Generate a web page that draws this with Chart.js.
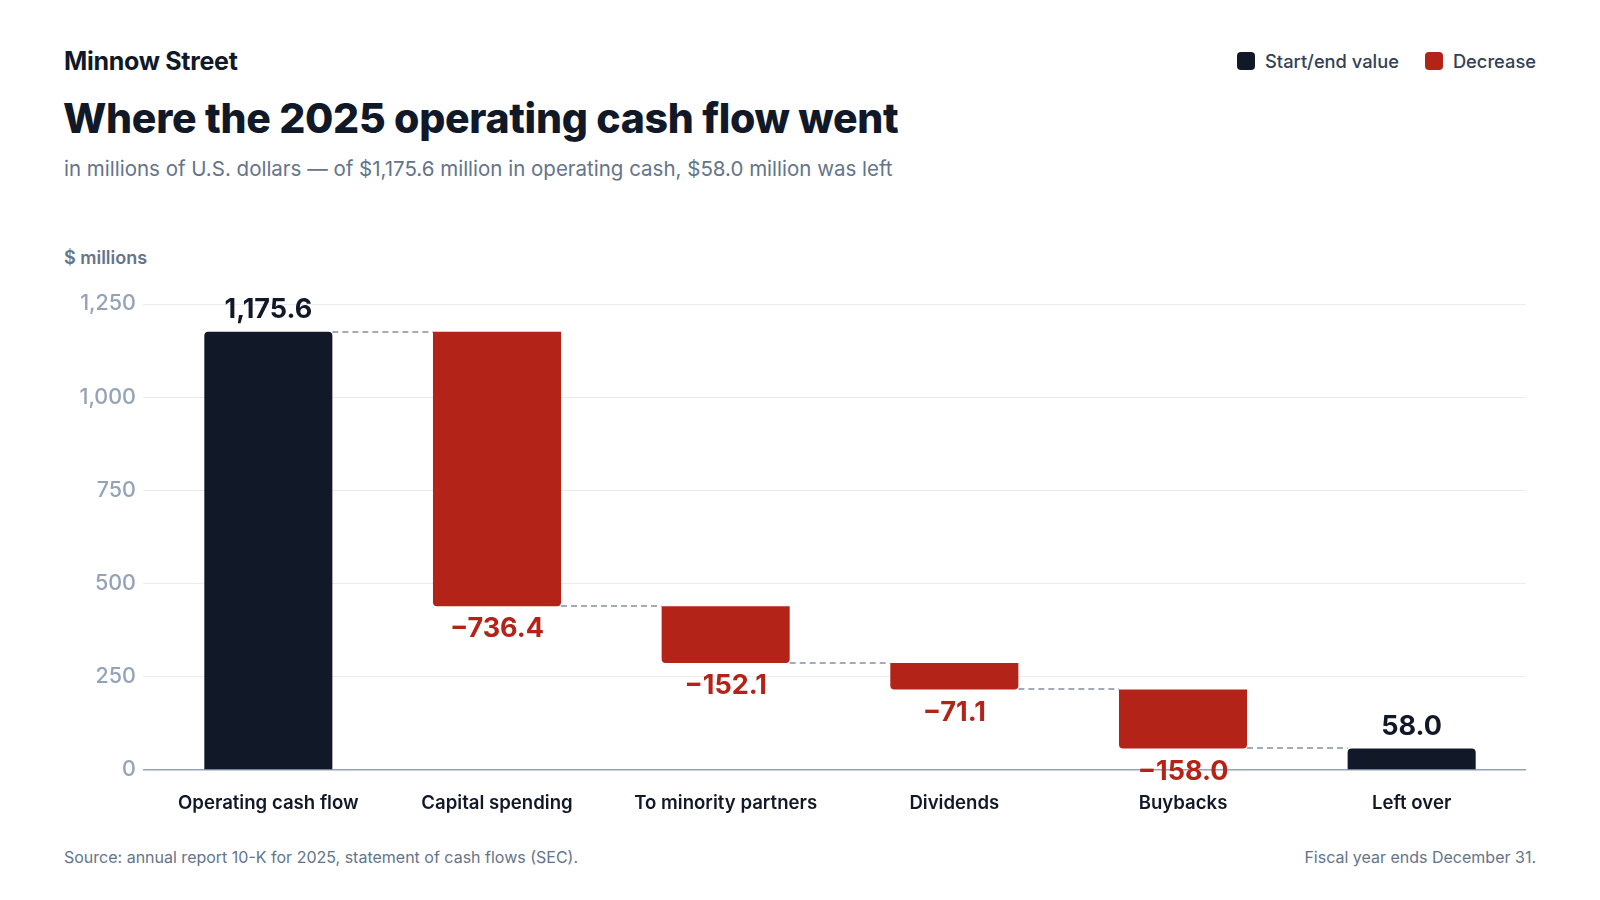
<!DOCTYPE html>
<html>
<head>
<meta charset="utf-8">
<script src="https://cdn.jsdelivr.net/npm/chart.js@4"></script>
<style>
  html, body { margin: 0; padding: 0; background: #fff; }
  body { width: 1600px; height: 900px; position: relative; font-family: Inter, 'Noto Sans', sans-serif; overflow: hidden; }
  .brand { position: absolute; left: 64px; top: 46px; font-size: 25px; font-weight: 700; color: #111827; letter-spacing: -0.3px; }
  .title { position: absolute; left: 63px; top: 93px; font-size: 41px; font-weight: 800; color: #111827; letter-spacing: -0.3px; }
  .subtitle { position: absolute; left: 64px; top: 156px; font-size: 20.5px; color: #64748b; }
  .unit { position: absolute; left: 64px; top: 247px; font-size: 18px; font-weight: 600; color: #64748b; }
  .legend { position: absolute; right: 64px; top: 50px; display: flex; gap: 26px; font-size: 18.3px; font-weight: 500; color: #334155; }
  .legend span { display: flex; align-items: center; }
  .legend i { display: inline-block; width: 18px; height: 18px; border-radius: 4px; margin-right: 10px; }
  .foot { position: absolute; top: 847px; font-size: 16px; color: #64748b; }
  #wrap { position: absolute; left: 0; top: 280px; width: 1600px; height: 550px; }
</style>
</head>
<body>
<div class="brand">Minnow Street</div>
<div class="title">Where the 2025 operating cash flow went</div>
<div class="subtitle">in millions of U.S. dollars — of $1,175.6 million in operating cash, $58.0 million was left</div>
<div class="legend">
  <span><i style="background:#111827"></i>Start/end value</span>
  <span><i style="background:#b42318"></i>Decrease</span>
</div>
<div class="unit">$ millions</div>
<div id="wrap"><canvas id="myChart"></canvas></div>
<div class="foot" style="left:64px">Source: annual report 10-K for 2025, statement of cash flows (SEC).</div>
<div class="foot" style="right:64px">Fiscal year ends December 31.</div>

<script>
const categories = ['Operating cash flow', 'Capital spending', 'To minority partners', 'Dividends', 'Buybacks', 'Left over'];
const changes = [1175.6, -736.4, -152.1, -71.1, -158.0, 58.0];
const kinds = ['total', 'decrease', 'decrease', 'decrease', 'decrease', 'total'];
const yTicks = [0, 250, 500, 750, 1000, 1250];

const DARK = '#111827';
const RED = '#b42318';

// floating bars [low, high] built from the running total
let running = 0;
const ranges = [];
const levels = [];
changes.forEach((v, i) => {
  if (kinds[i] === 'total') {
    ranges.push([0, v]);
    running = v;
  } else {
    ranges.push([running + v, running]);
    running = running + v;
  }
  levels.push(running);
});

function fmt(v) {
  const s = Math.abs(v).toLocaleString('en-US', {minimumFractionDigits: 1, maximumFractionDigits: 1});
  return v < 0 ? '\u2212' + s : s;
}

const waterfallExtras = {
  id: 'waterfallExtras',
  afterDatasetsDraw(chart) {
    const ctx = chart.ctx;
    const meta = chart.getDatasetMeta(0);
    const y = chart.scales.y;

    // dashed connectors
    ctx.save();
    ctx.strokeStyle = '#a3aab8';
    ctx.lineWidth = 2;
    ctx.setLineDash([6, 4]);
    for (let i = 0; i < meta.data.length - 1; i++) {
      const a = meta.data[i], b = meta.data[i + 1];
      const py = Math.round(y.getPixelForValue(levels[i]));
      ctx.beginPath();
      ctx.moveTo(a.x + a.width / 2, py);
      ctx.lineTo(b.x - b.width / 2, py);
      ctx.stroke();
    }
    ctx.restore();

    // value labels
    ctx.save();
    ctx.font = '700 27px Inter, sans-serif';
    ctx.textAlign = 'center';
    ctx.textBaseline = 'middle';
    meta.data.forEach((bar, i) => {
      const top = Math.min(bar.y, bar.base);
      const bottom = Math.max(bar.y, bar.base);
      if (kinds[i] === 'total') {
        ctx.fillStyle = DARK;
        ctx.fillText(fmt(changes[i]), bar.x, top - 22);
      } else {
        ctx.fillStyle = RED;
        ctx.fillText(fmt(changes[i]), bar.x, bottom + 23);
      }
    });
    ctx.restore();
  }
};

const data = {
  labels: categories,
  datasets: [{
    data: ranges,
    backgroundColor: kinds.map(k => k === 'total' ? DARK : RED),
    borderSkipped: false,
    borderRadius: ctx => kinds[ctx.dataIndex] === 'total'
      ? {topLeft: 4, topRight: 4, bottomLeft: 0, bottomRight: 0}
      : {topLeft: 0, topRight: 0, bottomLeft: 4, bottomRight: 4},
    categoryPercentage: 1,
    barPercentage: 0.56,
  }]
};

const options = {
  responsive: true,
  maintainAspectRatio: false,
  animation: false,
  layout: { padding: { left: 60, right: 74, top: 24, bottom: 0 } },
  plugins: {
    legend: { display: false },
    tooltip: { enabled: false },
  },
  scales: {
    x: {
      grid: { display: false, drawTicks: false },
      border: { display: false },
      ticks: {
        padding: 22,
        color: '#111827',
        font: { family: 'Inter', size: 18.6, weight: '600' },
      },
      afterFit: s => { s.height = 60; },
    },
    y: {
      min: 0,
      max: 1250,
      afterBuildTicks: s => { s.ticks = yTicks.map(v => ({value: v})); },
      border: { display: false },
      grid: {
        color: c => c.tick && c.tick.value === 0 ? '#94a3b8' : '#e9ecf1',
        lineWidth: c => c.tick && c.tick.value === 0 ? 1.5 : 1,
        tickLength: 11,
      },
      ticks: {
        padding: 7,
        color: '#94a3b8',
        font: { family: 'Inter', size: 21.5, weight: '500' },
        callback: v => v.toLocaleString('en-US'),
      },
      afterFit: s => { s.width = 94; },
    }
  }
};

new Chart(document.getElementById('myChart').getContext('2d'), {
  type: 'bar',
  data: data,
  options: options,
  plugins: [waterfallExtras],
});
</script>
</body>
</html>
